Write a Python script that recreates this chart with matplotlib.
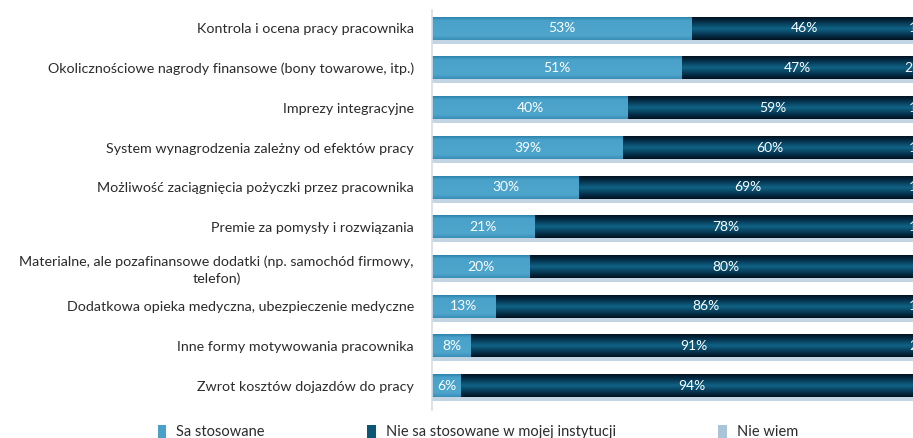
import numpy as np
import matplotlib
matplotlib.use("Agg")
import matplotlib.pyplot as plt
from matplotlib.colors import to_rgb

plt.rcParams['font.family'] = ['Lato', 'DejaVu Sans']

categories = [
    "Kontrola i ocena pracy pracownika",
    "Okolicznościowe nagrody finansowe (bony towarowe, itp.)",
    "Imprezy integracyjne",
    "System wynagrodzenia zależny od efektów pracy",
    "Możliwość zaciągnięcia pożyczki przez pracownika",
    "Premie za pomysły i rozwiązania",
    "Materialne, ale pozafinansowe dodatki (np. samochód firmowy,\ntelefon)",
    "Dodatkowa opieka medyczna, ubezpieczenie medyczne",
    "Inne formy motywowania pracownika",
    "Zwrot kosztów dojazdów do pracy",
]
stosowane = [53, 51, 40, 39, 30, 21, 20, 13, 8, 6]
nie_stosowane = [46, 47, 59, 60, 69, 78, 80, 86, 91, 94]
nie_wiem = [1, 2, 1, 1, 1, 1, 1, 1, 2, 1]
series_names = ["Sa stosowane", "Nie sa stosowane w mojej instytucji", "Nie wiem"]

W, H = 913, 438
fig = plt.figure(figsize=(W / 100, H / 100), dpi=100)
ax = fig.add_axes([432 / W, 28 / H, 490 / W, 400 / H])

y = np.arange(len(categories))
bh = 0.57

# soft shadow band under each bar
totals = np.array(stosowane) + np.array(nie_stosowane) + np.array(nie_wiem)
ax.barh(y + 0.05, totals, height=bh + 0.1, color="#c3d5e3", zorder=1)

c1, c2, c3 = "#4aa1c8", "#0b5676", "#a9c4d7"
b1 = ax.barh(y, stosowane, height=bh, color=c1, zorder=2, label=series_names[0])
b2 = ax.barh(y, nie_stosowane, height=bh, left=stosowane, color=c2, zorder=2,
             label=series_names[1])
left3 = np.array(stosowane) + np.array(nie_stosowane)
b3 = ax.barh(y, nie_wiem, height=bh, left=left3, color=c3, zorder=2, label=series_names[2])


def gradient(colors_stops, n=64):
    pos = np.array([p for p, _ in colors_stops])
    cols = np.array([to_rgb(c) for _, c in colors_stops])
    t = np.linspace(0, 1, n)
    arr = np.stack([np.interp(t, pos, cols[:, k]) for k in range(3)], axis=-1)
    return arr[:, None, :]


grad_light = gradient([(0, "#2c82aa"), (0.15, "#4aa2ca"), (0.8, "#4ea6cd"), (1, "#3a8fb7")])
grad_dark = gradient([(0, "#011220"), (0.2, "#05304a"), (0.5, "#106386"),
                      (0.8, "#05304a"), (1, "#011220")])


def paint(container, grad):
    # lay a vertical colour gradient exactly over each bar rectangle
    for p in container:
        x0, y0 = p.get_x(), p.get_y()
        w, h = p.get_width(), p.get_height()
        ax.imshow(grad, extent=(x0, x0 + w, y0 + h, y0), aspect="auto",
                  interpolation="bilinear", zorder=2.5)


paint(b1, grad_light)
paint(b2, grad_dark)

# value labels
for i in range(len(categories)):
    ax.text(stosowane[i] / 2, y[i], f"{stosowane[i]}%", ha="center", va="center",
            color="white", fontsize=10, zorder=4)
    ax.text(stosowane[i] + nie_stosowane[i] / 2, y[i], f"{nie_stosowane[i]}%",
            ha="center", va="center", color="white", fontsize=10, zorder=4)
    ax.text(left3[i] - 1.6, y[i], f"{nie_wiem[i]}%", ha="left",
            va="center", color="#f2f6f9", fontsize=10, zorder=4, clip_on=False)

ax.set_xlim(0, 100)
ax.set_ylim(9.61, -0.465)
ax.set_xticks([])
ax.set_yticks(y)
ax.set_yticklabels(categories, fontsize=10.3, color="#2b2b2b", multialignment="center",
                   linespacing=1.45)
ax.tick_params(axis="y", length=0, pad=13)
for s in ["top", "right", "bottom"]:
    ax.spines[s].set_visible(False)
ax.spines["left"].set_color("#d5dde4")
ax.spines["left"].set_linewidth(1.2)

leg = fig.legend(handles=[b1, b2, b3], labels=series_names, loc="center",
                 bbox_to_anchor=(478 / W, 1 - 432 / H), ncol=3, frameon=False,
                 fontsize=10.5, handlelength=0.6, handleheight=1.0, handletextpad=0.7,
                 columnspacing=7.0)
for t in leg.get_texts():
    t.set_color("#2b2b2b")

fig.savefig("out.png", dpi=100)
